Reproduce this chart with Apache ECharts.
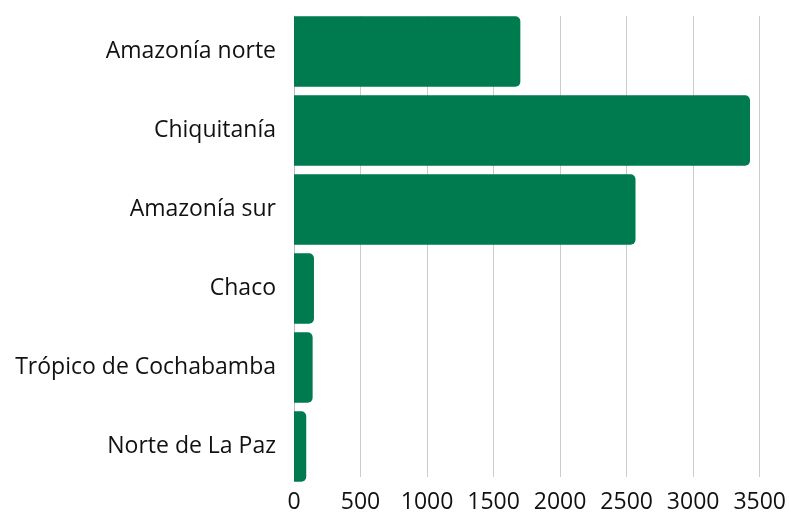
<!DOCTYPE html>
<html><head><meta charset="utf-8">
<script src="https://cdn.jsdelivr.net/npm/echarts@6/dist/echarts.min.js"></script>
<style>html,body{margin:0;padding:0;background:#fff}#c{width:789px;height:514px}</style>
</head><body><div id="c"></div>
<script>
const categories = ["Amazonía norte", "Chiquitanía", "Amazonía sur", "Chaco", "Trópico de Cochabamba", "Norte de La Paz"];
const values = [1700, 3425, 2565, 150, 140, 92];
const xTicks = [0, 500, 1000, 1500, 2000, 2500, 3000, 3500];

const FONT = 'Open Sans';
const chart = echarts.init(document.getElementById('c'), null, {renderer: 'canvas'});
chart.setOption({
  animation: false,
  grid: [
    {left: 294, right: 29, top: 12, bottom: 28, containLabel: false},
    {left: 294, right: 29, top: 16, bottom: 32, containLabel: false}
  ],
  xAxis: [{
    gridIndex: 0, type: 'value', min: xTicks[0], max: xTicks[xTicks.length - 1], interval: 500,
    axisLine: {show: false}, axisTick: {show: false}, splitLine: {show: false},
    axisLabel: {show: false}
  }, {
    gridIndex: 1, type: 'value', min: xTicks[0], max: xTicks[xTicks.length - 1], interval: 500,
    axisLine: {show: false}, axisTick: {show: false},
    splitLine: {show: true, lineStyle: {color: '#cccccc', width: 1}},
    axisLabel: {color: '#111', fontSize: 23, fontFamily: FONT, margin: 14,
      formatter: v => String(v)}
  }],
  yAxis: [{
    gridIndex: 0, type: 'category', data: categories, inverse: true,
    axisLine: {show: false}, axisTick: {show: false},
    axisLabel: {color: '#111', fontSize: 23, fontFamily: FONT, margin: 18}
  }, {
    gridIndex: 1, type: 'category', data: categories, inverse: true,
    axisLine: {show: true, lineStyle: {color: '#bbbbbb', width: 1}},
    axisTick: {show: false}, axisLabel: {show: false}
  }],
  series: [{
    type: 'bar', xAxisIndex: 0, yAxisIndex: 0, data: values, barCategoryGap: '11%', z: 3,
    itemStyle: {color: '#007A4F', borderRadius: [0, 5, 5, 0]}
  }]
});
</script></body></html>
